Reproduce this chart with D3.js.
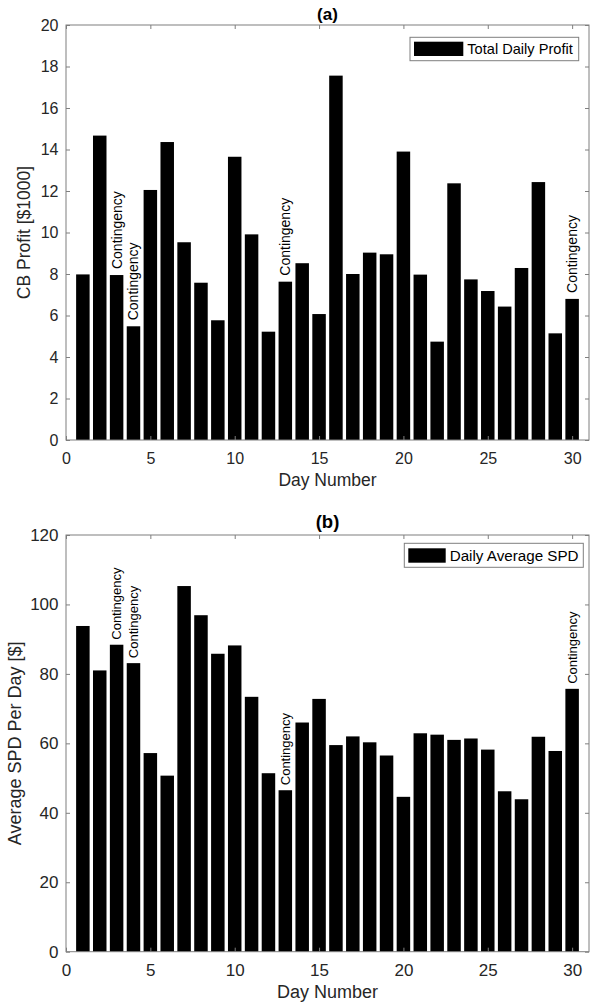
<!DOCTYPE html>
<html>
<head>
<meta charset="utf-8">
<script src="https://cdn.jsdelivr.net/npm/d3@7"></script>
<style>
  html, body { margin: 0; padding: 0; background: #fff; }
  svg { display: block; font-family: "Liberation Sans", Arial, Helvetica, sans-serif; }
</style>
</head>
<body>
<svg id="chart" width="590" height="1005"></svg>
<script>
// ---------------- Data ----------------
const days = d3.range(1, 31);
const dailyProfit = [7.98, 14.67, 7.95, 5.48, 12.05, 14.36, 9.53, 7.58, 5.77, 13.65,
                     9.91, 5.22, 7.63, 8.52, 6.07, 17.56, 8.0, 9.03, 8.95, 13.9,
                     7.97, 4.74, 12.37, 7.74, 7.18, 6.43, 8.29, 12.43, 5.14, 6.8];
const dailySPD = [93.8, 81.0, 88.4, 83.1, 57.2, 50.7, 105.3, 96.9, 85.8, 88.2,
                  73.4, 51.4, 46.5, 66.0, 72.8, 59.5, 62.0, 60.3, 56.5, 44.6,
                  62.9, 62.5, 61.0, 61.4, 58.2, 46.2, 43.9, 61.9, 57.8, 75.7];
const contingencyDaysA = [3, 4, 13, 30];
const contingencyDaysB = [3, 4, 13, 30];
const xTicks = [0, 5, 10, 15, 20, 25, 30];
const yTicksA = d3.range(0, 21, 2);
const yTicksB = d3.range(0, 121, 20);
const titles = ["(a)", "(b)"];
const yLabels = ["CB Profit [$1000]", "Average SPD Per Day [$]"];
const xLabel = "Day Number";
const legendLabels = ["Total Daily Profit", "Daily Average SPD"];
const annotation = "Contingency";

// ---------------- Layout ----------------
const svg = d3.select("#chart");
const frameColor = "#7f7f7f";
const textColor = "#262626";

const panels = [
  {
    values: dailyProfit, contingency: contingencyDaysA, yTicks: yTicksA, yMax: 20,
    title: titles[0], yLabel: yLabels[0], legend: legendLabels[0],
    top: 25, bottom: 440,
    tickFont: 16, labelFont: 17.5, titleFont: 17, legendFont: 14.6, annFont: 14,
    titleBaseline: 19.5, xLabelBaseline: 486, yLabelX: 29.6, tickPad: 12.5,
    legendBox: [410, 37.3, 168.7, 23.4], swatch: [414, 41.7, 49.3, 14.3], annGap: 6
  },
  {
    values: dailySPD, contingency: contingencyDaysB, yTicks: yTicksB, yMax: 120,
    title: titles[1], yLabel: yLabels[1], legend: legendLabels[1],
    top: 535, bottom: 951.7,
    tickFont: 17, labelFont: 18, titleFont: 18.5, legendFont: 15.2, annFont: 13,
    titleBaseline: 528, xLabelBaseline: 997.5, yLabelX: 21.1, tickPad: 12,
    legendBox: [404.3, 543.3, 179, 24], swatch: [408.3, 548.3, 37.4, 14.4], annGap: 5
  }
];

const left = 66, right = 589;
const x = d3.scaleLinear().domain([0, 31]).range([left, right]);
const barW = (x(1) - x(0)) * 0.8;

panels.forEach(p => {
  const y = d3.scaleLinear().domain([0, p.yMax]).range([p.bottom, p.top]);
  const g = svg.append("g");

  // bars
  g.selectAll("rect.bar").data(p.values).enter().append("rect")
    .attr("class", "bar")
    .attr("x", (d, i) => x(days[i]) - barW / 2)
    .attr("width", barW)
    .attr("y", d => y(d))
    .attr("height", d => y(0) - y(d))
    .attr("fill", "#000");

  // axes - bottom with labels
  const xAxisB = d3.axisBottom(x).tickValues(xTicks).tickSizeInner(-4).tickSizeOuter(0).tickPadding(p.tickPad);
  const gxb = g.append("g").attr("transform", `translate(0,${p.bottom})`).call(xAxisB);
  const xAxisT = d3.axisTop(x).tickValues(xTicks).tickSizeInner(-4).tickSizeOuter(0).tickFormat("");
  const gxt = g.append("g").attr("transform", `translate(0,${p.top})`).call(xAxisT);
  const yAxisL = d3.axisLeft(y).tickValues(p.yTicks).tickSizeInner(-4).tickSizeOuter(0).tickPadding(7.5);
  const gyl = g.append("g").attr("transform", `translate(${left},0)`).call(yAxisL);
  const yAxisR = d3.axisRight(y).tickValues(p.yTicks).tickSizeInner(-4).tickSizeOuter(0).tickFormat("");
  const gyr = g.append("g").attr("transform", `translate(${right},0)`).call(yAxisR);

  [gxb, gxt, gyl, gyr].forEach(a => {
    a.select(".domain").remove();
    a.selectAll(".tick line").attr("stroke", frameColor);
    a.selectAll(".tick text").attr("fill", textColor)
      .style("font-size", p.tickFont + "px")
      .style("font-family", '"Liberation Sans", Arial, sans-serif');
  });

  // frame
  g.append("rect")
    .attr("x", left).attr("y", p.top)
    .attr("width", right - left).attr("height", p.bottom - p.top)
    .attr("fill", "none").attr("stroke", frameColor).attr("stroke-width", 1);

  // contingency annotations
  p.contingency.forEach(day => {
    const v = p.values[day - 1];
    const tx = x(day), ty = y(v) - p.annGap;
    g.append("text")
      .attr("transform", `translate(${tx},${ty}) rotate(-90)`)
      .attr("dy", "0.35em")
      .attr("text-anchor", "start")
      .attr("fill", "#000")
      .style("font-size", p.annFont + "px")
      .text(annotation);
  });

  // title
  g.append("text")
    .attr("x", (left + right) / 2).attr("y", p.titleBaseline)
    .attr("text-anchor", "middle")
    .attr("font-weight", "bold")
    .attr("fill", "#000")
    .style("font-size", p.titleFont + "px")
    .text(p.title);

  // x label
  g.append("text")
    .attr("x", (left + right) / 2).attr("y", p.xLabelBaseline)
    .attr("text-anchor", "middle")
    .attr("fill", textColor)
    .style("font-size", p.labelFont + "px")
    .text(xLabel);

  // y label
  g.append("text")
    .attr("transform", `translate(${p.yLabelX},${(p.top + p.bottom) / 2}) rotate(-90)`)
    .attr("text-anchor", "middle")
    .attr("fill", textColor)
    .style("font-size", p.labelFont + "px")
    .text(p.yLabel);

  // legend
  const [bx, by, bw, bh] = p.legendBox;
  g.append("rect").attr("x", bx).attr("y", by).attr("width", bw).attr("height", bh)
    .attr("fill", "#fff").attr("stroke", frameColor).attr("stroke-width", 1);
  const [sx, sy, sw, sh] = p.swatch;
  g.append("rect").attr("x", sx).attr("y", sy).attr("width", sw).attr("height", sh)
    .attr("fill", "#000");
  g.append("text")
    .attr("x", sx + sw + 4).attr("y", by + bh / 2)
    .attr("dy", "0.35em")
    .attr("fill", "#000")
    .style("font-size", p.legendFont + "px")
    .text(p.legend);
});
</script>
</body>
</html>
